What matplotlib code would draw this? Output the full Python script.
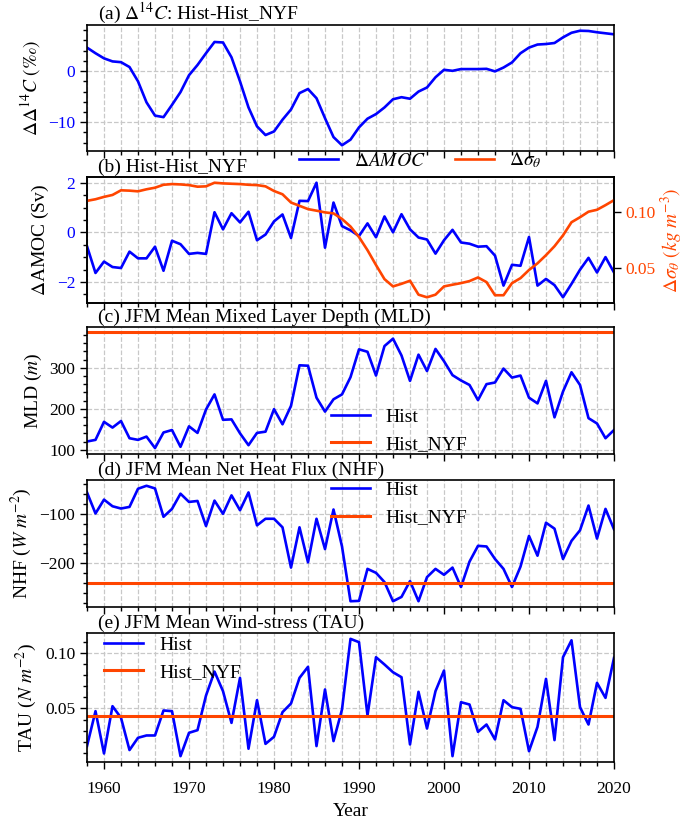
import matplotlib
matplotlib.use("Agg")
import matplotlib.pyplot as plt
from matplotlib.ticker import AutoMinorLocator, MultipleLocator, FormatStrFormatter

plt.rcParams['font.family'] = ['Liberation Serif', 'DejaVu Serif']
plt.rcParams['mathtext.fontset'] = 'stix'
plt.rcParams['axes.unicode_minus'] = True

years = list(range(1958, 2021))

d14c = [4.6, 3.5, 2.5, 1.9, 1.75, 0.8, -2.0, -6.1, -8.7, -9.0, -6.6, -4.1, -0.8, 1.2,
        3.5, 5.7, 5.6, 2.7, -2.0, -7.1, -10.8, -12.5, -11.8, -9.5, -7.5, -4.3, -3.5,
        -5.3, -9.2, -12.9, -14.5, -13.4, -11.0, -9.3, -8.4, -7.1, -5.5, -5.1, -5.4,
        -4.0, -3.2, -1.2, 0.26, 0.06, 0.4, 0.4, 0.4, 0.45, -0.05, 0.7, 1.7, 3.5, 4.6,
        5.2, 5.3, 5.5, 6.6, 7.5, 7.9, 7.85, 7.6, 7.4, 7.2]

amoc = [-0.56, -1.64, -1.18, -1.4, -1.44, -0.78, -1.05, -1.05, -0.58, -1.55, -0.34,
        -0.48, -0.87, -0.83, -0.87, 0.81, 0.12, 0.77, 0.4, 0.83, -0.32, -0.09, 0.44,
        0.72, -0.23, 1.27, 1.26, 2.0, -0.62, 1.2, 0.25, 0.08, -0.15, 0.36, -0.2, 0.64,
        0.0, 0.73, 0.12, -0.21, -0.29, -0.86, -0.32, 0.1, -0.41, -0.46, -0.58, -0.56,
        -0.94, -2.15, -1.31, -1.35, -0.19, -2.15, -1.88, -2.13, -2.62, -2.08, -1.51,
        -1.03, -1.62, -1.0, -1.62]

dsigma = [0.1096, 0.1110, 0.1131, 0.1148, 0.1189, 0.1186, 0.1180, 0.1198, 0.1212,
          0.1238, 0.1244, 0.1241, 0.1235, 0.1221, 0.1224, 0.1256, 0.1250, 0.1247,
          0.1244, 0.1238, 0.1235, 0.1224, 0.1183, 0.1154, 0.1081, 0.1052, 0.1023,
          0.1009, 0.0994, 0.0985, 0.0936, 0.0869, 0.0776, 0.0660, 0.0529, 0.0404,
          0.0340, 0.0363, 0.0390, 0.0267, 0.0244, 0.0267, 0.0340, 0.0355, 0.0369,
          0.0387, 0.0419, 0.0378, 0.0262, 0.0262, 0.0369, 0.0413, 0.0485, 0.0544,
          0.0616, 0.0695, 0.0791, 0.0907, 0.0951, 0.1000, 0.1017, 0.1058, 0.1102]

mld_hist = [120, 124, 168, 154, 170, 128, 124, 132, 104, 142, 148, 107, 157, 141, 198,
            235, 173, 174, 140, 111, 141, 144, 199, 162, 207, 306, 305, 227, 193, 223,
            235, 277, 345, 339, 281, 353, 371, 330, 268, 332, 292, 346, 316, 282, 269,
            258, 221, 260, 264, 298, 276, 281, 227, 213, 268, 179, 242, 289, 258, 177,
            164, 128, 148]
mld_nyf = 386.6

nhf_hist = [-56.7, -99.3, -71.3, -84.7, -89.3, -86, -49.3, -43.3, -48.7, -106, -90,
            -59.3, -76, -74, -124.7, -73.3, -100, -62.7, -92.7, -56.7, -123.3, -110,
            -110, -127.3, -208.7, -127.3, -198, -110, -171.3, -91.3, -166, -276.7,
            -276, -211.3, -219.3, -238, -276.7, -268, -236, -276.7, -228, -211.3,
            -223.3, -208.7, -248, -196.7, -164.7, -166, -191.3, -211.3, -248, -206.7,
            -144.7, -184.7, -118, -130, -191.3, -154.7, -133.3, -83.3, -150, -90, -131.3]
nhf_nyf = -240.0

tau_hist = [0.016, 0.0476, 0.0093, 0.0521, 0.0416, 0.0124, 0.0235, 0.0256, 0.0256,
            0.0482, 0.0476, 0.0069, 0.028, 0.0304, 0.0617, 0.0834, 0.0657, 0.037,
            0.0777, 0.0136, 0.0575, 0.018, 0.0244, 0.0467, 0.0545, 0.0777, 0.0877,
            0.016, 0.0672, 0.0205, 0.0491, 0.113, 0.110, 0.0437, 0.0964, 0.0898,
            0.0828, 0.0783, 0.0175, 0.0651, 0.0319, 0.0657, 0.0843, 0.0069, 0.0557,
            0.0536, 0.0289, 0.0355, 0.022, 0.0575, 0.0512, 0.0497, 0.0114, 0.0334,
            0.0768, 0.0214, 0.0964, 0.1117, 0.0512, 0.0355, 0.0732, 0.0596, 0.0958]
tau_nyf = 0.0431

titles = [r"(a) $\Delta^{14}C$: Hist-Hist_NYF",
          "(b) Hist-Hist_NYF",
          "(c) JFM Mean Mixed Layer Depth (MLD)",
          "(d) JFM Mean Net Heat Flux (NHF)",
          "(e) JFM Mean Wind-stress (TAU)"]
ylabels = [r"$\Delta\Delta^{14}C\ (‰)$", r"$\Delta$AMOC (Sv)", r"MLD ($m$)",
           r"NHF ($W\ m^{-2}$)", r"TAU ($N\ m^{-2}$)"]
sig_label = r"$\Delta\sigma_\theta\ (kg\ m^{-3})$"

BLUE = "#0000ff"
RED = "#ff4500"
W, H = 685, 821
fig = plt.figure(figsize=(W / 100, H / 100), dpi=100)

left_px, right_px = 87, 614
panels_px = [(25, 151), (177, 303), (327, 454), (480, 607), (633, 762)]
axes = []
for top, bot in panels_px:
    ax = fig.add_axes([left_px / W, 1 - bot / H, (right_px - left_px) / W, (bot - top) / H])
    axes.append(ax)

FS_TICK = 12.5
FS_LAB = 14
LW = 1.9


def style(ax, labelx=False):
    ax.set_xlim(1958, 2020)
    ax.xaxis.set_major_locator(MultipleLocator(10))
    ax.xaxis.set_minor_locator(AutoMinorLocator())
    ax.yaxis.set_minor_locator(AutoMinorLocator())
    ax.grid(True, which='major', axis='y', ls='--', color='#c8c8c8', lw=0.9)
    ax.grid(True, which='both', axis='x', ls='--', color='#c8c8c8', lw=0.9)
    ax.tick_params(which='major', direction='out', length=5, width=1.0, labelsize=FS_TICK)
    ax.tick_params(which='minor', direction='out', length=3, width=1.0)
    ax.tick_params(axis='x', labelbottom=labelx, pad=9)
    for s in ax.spines.values():
        s.set_linewidth(1.2)


def title(ax, text, y=1.01):
    ax.text(0.02, y, text, transform=ax.transAxes, ha='left', va='bottom', fontsize=FS_LAB)


# (a)
ax = axes[0]
ax.plot(years, d14c, color=BLUE, lw=LW)
style(ax)
ax.tick_params(axis='y', labelcolor=BLUE)
ax.set_ylabel(ylabels[0], fontsize=FS_LAB)
title(ax, titles[0], y=0.995)

# (b)
ax = axes[1]
l1, = ax.plot(years, amoc, color=BLUE, lw=LW, label=r"$\Delta AMOC$")
style(ax)
ax.tick_params(axis='y', labelcolor=BLUE)
ax.set_ylabel(ylabels[1], fontsize=FS_LAB)
ax2 = ax.twinx()
l2, = ax2.plot(years, dsigma, color=RED, lw=LW, label=r"$\Delta\sigma_\theta$")
ax2.tick_params(axis='y', direction='out', length=5, width=1.0, labelsize=FS_TICK, labelcolor=RED)
ax2.yaxis.set_major_locator(MultipleLocator(0.05))
ax2.set_ylabel(sig_label, fontsize=FS_LAB, color=RED, labelpad=2)
for s in ax2.spines.values():
    s.set_linewidth(1.2)
title(ax, titles[1])
ax.legend([l1, l2], [l1.get_label(), l2.get_label()], loc='center',
          bbox_to_anchor=(0.633, 1.13), ncol=2, frameon=False, fontsize=FS_LAB,
          columnspacing=1.5)

# (c)
ax = axes[2]
ax.plot(years, mld_hist, color=BLUE, lw=LW, label="Hist")
ax.plot(years, [mld_nyf] * len(years), color=RED, lw=2.2, label="Hist_NYF")
style(ax)
ax.set_ylim(89.5, 399.5)
ax.yaxis.set_major_locator(MultipleLocator(100))
ax.yaxis.set_minor_locator(AutoMinorLocator(5))
ax.set_ylabel(ylabels[2], fontsize=FS_LAB)
title(ax, titles[2])
ax.legend(loc='lower left', bbox_to_anchor=(0.43, -0.13), frameon=False, fontsize=FS_LAB)

# (d)
ax = axes[3]
ax.plot(years, nhf_hist, color=BLUE, lw=LW, label="Hist")
ax.plot(years, [nhf_nyf] * len(years), color=RED, lw=2.2, label="Hist_NYF")
style(ax)
ax.set_ylabel(ylabels[3], fontsize=FS_LAB)
title(ax, titles[3])
ax.legend(loc='upper left', bbox_to_anchor=(0.43, 1.127), frameon=False, fontsize=FS_LAB)

# (e)
ax = axes[4]
ax.plot(years, tau_hist, color=BLUE, lw=LW, label="Hist")
ax.plot(years, [tau_nyf] * len(years), color=RED, lw=2.2, label="Hist_NYF")
style(ax, labelx=True)
ax.yaxis.set_major_locator(MultipleLocator(0.05))
ax.yaxis.set_major_formatter(FormatStrFormatter('%.2f'))
ax.yaxis.set_minor_locator(AutoMinorLocator(5))
ax.set_ylabel(ylabels[4], fontsize=FS_LAB)
ax.set_xlabel("Year", fontsize=FS_LAB, labelpad=4)
title(ax, titles[4])
ax.legend(loc='upper left', bbox_to_anchor=(0.0, 1.11), frameon=False, fontsize=FS_LAB)

fig.savefig("out.png", dpi=100)
